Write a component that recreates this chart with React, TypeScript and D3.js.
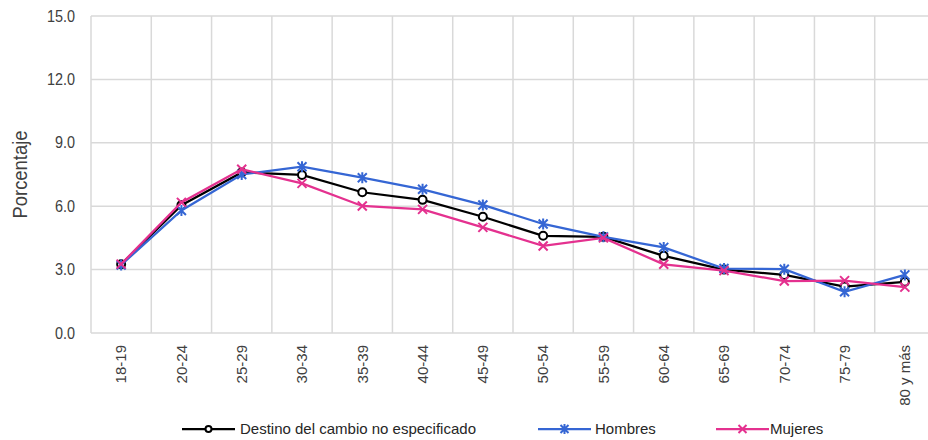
import React from "react";
import * as d3 from "d3";

const categories = ["18-19","20-24","25-29","30-34","35-39","40-44","45-49","50-54","55-59","60-64","65-69","70-74","75-79","80 y más"];
const destino = [3.25, 6.05, 7.6, 7.48, 6.66, 6.3, 5.5, 4.6, 4.55, 3.65, 3.0, 2.75, 2.2, 2.42];
const hombres = [3.22, 5.8, 7.5, 7.87, 7.35, 6.8, 6.06, 5.16, 4.55, 4.05, 3.05, 3.02, 1.95, 2.75];
const mujeres = [3.26, 6.18, 7.75, 7.08, 6.01, 5.85, 5.0, 4.12, 4.5, 3.25, 2.95, 2.46, 2.48, 2.17];
const yTicks = [0, 3, 6, 9, 12, 15];

const FONT = "'Liberation Sans Narrow', 'Arial Narrow', 'Liberation Sans', Arial, sans-serif";
const BLACK = "#000000";
const BLUE = "#3566d4";
const PINK = "#e4318f";

const series = [
  { name: "Destino del cambio no especificado", values: destino, color: BLACK, marker: "circle" },
  { name: "Hombres", values: hombres, color: BLUE, marker: "star" },
  { name: "Mujeres", values: mujeres, color: PINK, marker: "x" },
];

function Marker({ type, x, y, color, small }: { type: string; x: number; y: number; color: string; small?: boolean }) {
  const s = small ? 4 : 4.5;
  if (type === "circle") {
    return <circle cx={x} cy={y} r={small ? 3 : 4} fill="#fff" stroke={color} strokeWidth={2} />;
  }
  if (type === "x") {
    return (
      <path d={`M${x - s},${y - s}L${x + s},${y + s}M${x - s},${y + s}L${x + s},${y - s}`} stroke={color} strokeWidth={2} fill="none" />
    );
  }
  return (
    <path
      d={`M${x - s},${y - s}L${x + s},${y + s}M${x - s},${y + s}L${x + s},${y - s}M${x},${y - s - 1}L${x},${y + s + 1}`}
      stroke={color}
      strokeWidth={2}
      fill="none"
    />
  );
}

export default function App() {
  const W = 928, H = 440;
  const left = 91, right = 935, top = 16, bottom = 333;
  const x = d3.scaleBand<string>().domain(categories).range([left, right]);
  const y = d3.scaleLinear().domain([0, 15]).range([bottom, top]);
  const cx = (c: string) => (x(c) as number) + x.bandwidth() / 2;
  const line = d3.line<number>().x((_, i) => cx(categories[i])).y((v) => y(v));

  const legendItems = [
    { s: series[0], x0: 182, tx: 240 },
    { s: series[1], x0: 538, tx: 595 },
    { s: series[2], x0: 716, tx: 770 },
  ];

  return (
    <svg width={W} height={H} style={{ position: "absolute", left: 0, top: 0, fontFamily: FONT }}>
      <rect width={W} height={H} fill="#fff" />
      {yTicks.map((t) => (
        <line key={"h" + t} x1={left} x2={right} y1={y(t)} y2={y(t)} stroke="#d9d9d9" strokeWidth={1.5} />
      ))}
      {categories.map((c) => (
        <line key={"v" + c} x1={(x(c) as number)} x2={(x(c) as number)} y1={top} y2={bottom} stroke="#d9d9d9" strokeWidth={1.5} />
      ))}
      <line x1={right} x2={right} y1={top} y2={bottom} stroke="#d9d9d9" strokeWidth={1.5} />
      {yTicks.map((t) => (
        <text key={"t" + t} transform={`translate(75,${y(t)}) scale(0.9,1)`} dy="0.35em" textAnchor="end" fontSize={16} fill="#404040">
          {t.toFixed(1)}
        </text>
      ))}
      {categories.map((c) => (
        <text
          key={"c" + c}
          transform={`translate(${cx(c)},${345}) rotate(-90)`}
          dy="0.35em"
          textAnchor="end"
          fontSize={15}
          fill="#404040"
        >
          {c}
        </text>
      ))}
      <text transform={`translate(20,${(top + bottom) / 2}) rotate(-90) scale(0.92,1)`} dy="0.35em" textAnchor="middle" fontSize={20} fill="#404040">
        Porcentaje
      </text>
      {series.map((s) => (
        <g key={s.name}>
          <path d={line(s.values) || ""} fill="none" stroke={s.color} strokeWidth={2.25} />
          {s.values.map((v, i) => (
            <Marker key={i} type={s.marker} x={cx(categories[i])} y={y(v)} color={s.color} />
          ))}
        </g>
      ))}
      {legendItems.map(({ s, x0, tx }) => (
        <g key={"l" + s.name}>
          <line x1={x0} x2={x0 + 53} y1={429} y2={429} stroke={s.color} strokeWidth={2.25} />
          <Marker type={s.marker} x={x0 + 26.5} y={429} color={s.color} small />
          <text x={tx} y={429} dy="0.35em" fontSize={15} fill="#262626">
            {s.name}
          </text>
        </g>
      ))}
    </svg>
  );
}
